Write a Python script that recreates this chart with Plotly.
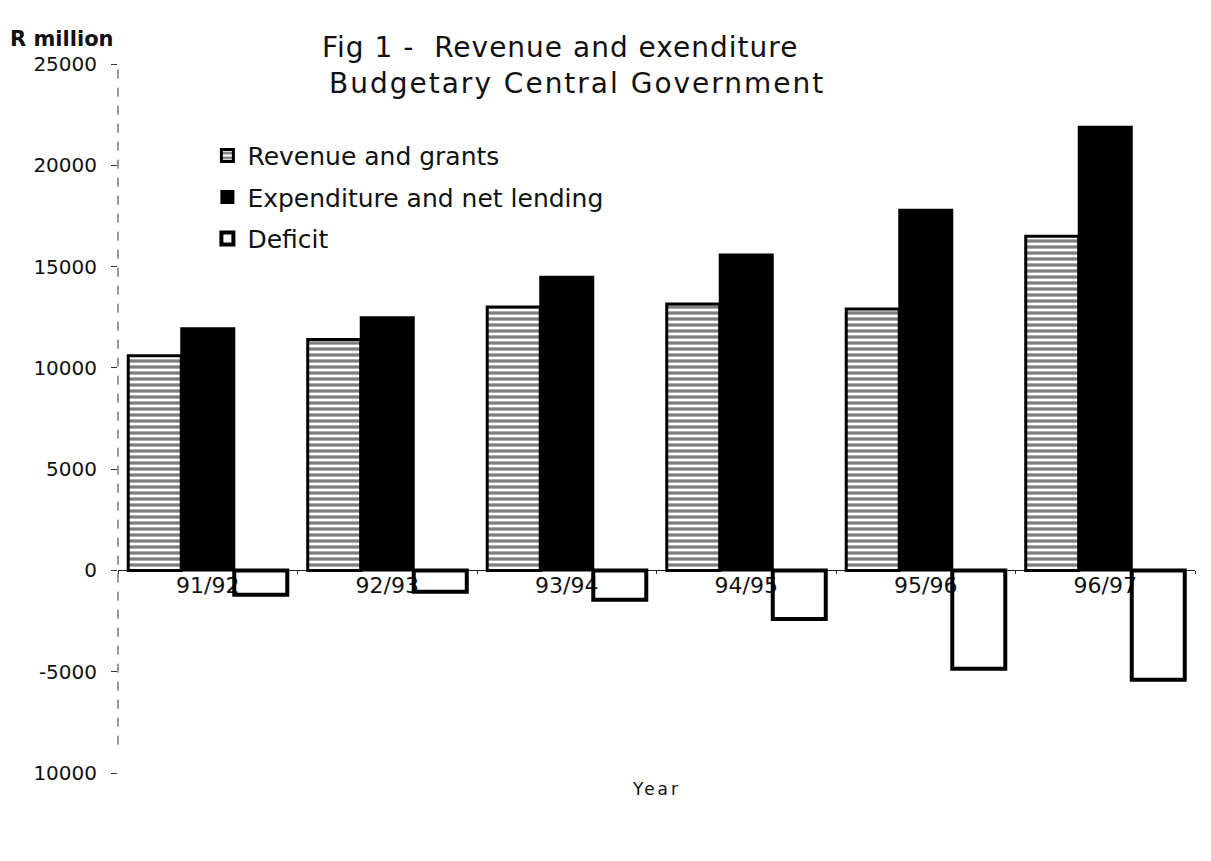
import plotly.graph_objects as go

years = ["91/92", "92/93", "93/94", "94/95", "95/96", "96/97"]
revenue = [10600, 11400, 13000, 13150, 12900, 16500]
expenditure = [11950, 12500, 14500, 15600, 17800, 21900]
deficit = [-1200, -1050, -1450, -2400, -4850, -5400]

y_ticks = [25000, 20000, 15000, 10000, 5000, 0, -5000, -10000]
y_tick_text = ["25000", "20000", "15000", "10000", "5000", "0", "-5000", "10000"]
y_min, y_max = -10000, 25000

FONT = "DejaVu Sans"

fig = go.Figure()
fig.add_trace(go.Bar(
    x=years, y=revenue, name="Revenue and grants", legendgroup="a",
    marker=dict(color="white", line=dict(color="black", width=3),
                pattern=dict(shape="-", fgcolor="black", bgcolor="white",
                             size=6, solidity=0.55)),
))
fig.add_trace(go.Bar(
    x=years, y=expenditure, name="Expenditure and net lending", legendgroup="b",
    marker=dict(color="black", line=dict(color="black", width=2)),
))
fig.add_trace(go.Bar(
    x=years, y=deficit, name="Deficit", legendgroup="c",
    marker=dict(color="rgba(255,255,255,0)", line=dict(color="black", width=4)),
))

fig.update_layout(
    width=1203, height=853,
    margin=dict(l=110, r=16, t=56, b=88),
    paper_bgcolor="white", plot_bgcolor="white",
    barmode="group", bargap=0.114, bargroupgap=0,
    font=dict(family=FONT, color="#111"),
    showlegend=True,
    legend=dict(x=0.083, y=0.903, xanchor="left", yanchor="top",
                font=dict(size=25, family=FONT, color="#111"),
                bgcolor="rgba(0,0,0,0)", tracegroupgap=6),
)

fig.update_xaxes(
    anchor="free", position=(0 - y_min) / (y_max - y_min),
    showline=False, showgrid=False, zeroline=False,
    ticks="outside", ticklen=3, tickwidth=1, tickcolor="#333",
    tickson="boundaries", layer="below traces",
    tickfont=dict(size=22, family=FONT, color="#111"),
)
fig.update_yaxes(
    range=[y_min, y_max], showgrid=False,
    zeroline=True, zerolinecolor="#222", zerolinewidth=1,
    showline=False,
    tickvals=y_ticks, ticktext=y_tick_text,
    ticks="outside", ticklen=6, tickwidth=1, tickcolor="#333",
    ticklabelstandoff=10,
    tickfont=dict(size=20, family=FONT, color="#111"),
)

# dashed y-axis line (scanned look)
fig.add_shape(type="line", xref="paper", yref="paper", x0=0, x1=0, y0=0.04, y1=1,
              line=dict(color="#333", width=1, dash="dash"))

fig.add_annotation(xref="paper", yref="paper", x=-0.102, y=1.035,
                   xanchor="left", yanchor="middle", showarrow=False,
                   text="<b>R million</b>", font=dict(size=21, family=FONT, color="#111"))
fig.add_annotation(xref="paper", yref="paper", x=0.41, y=1.0226,
                   xanchor="center", yanchor="middle", showarrow=False,
                   text='<span style="letter-spacing:1px">Fig 1 -  Revenue and exenditure</span>',
                   font=dict(size=28, family=FONT, color="#111"))
fig.add_annotation(xref="paper", yref="paper", x=0.426, y=0.973,
                   xanchor="center", yanchor="middle", showarrow=False,
                   text='<span style="letter-spacing:2px">Budgetary Central Government</span>',
                   font=dict(size=28, family=FONT, color="#111"))
fig.add_annotation(xref="paper", yref="paper", x=0.4996, y=-0.0226,
                   xanchor="center", yanchor="middle", showarrow=False,
                   text='<span style="letter-spacing:3px">Year</span>',
                   font=dict(size=17, family=FONT, color="#111"))

fig.write_html("out.html")
